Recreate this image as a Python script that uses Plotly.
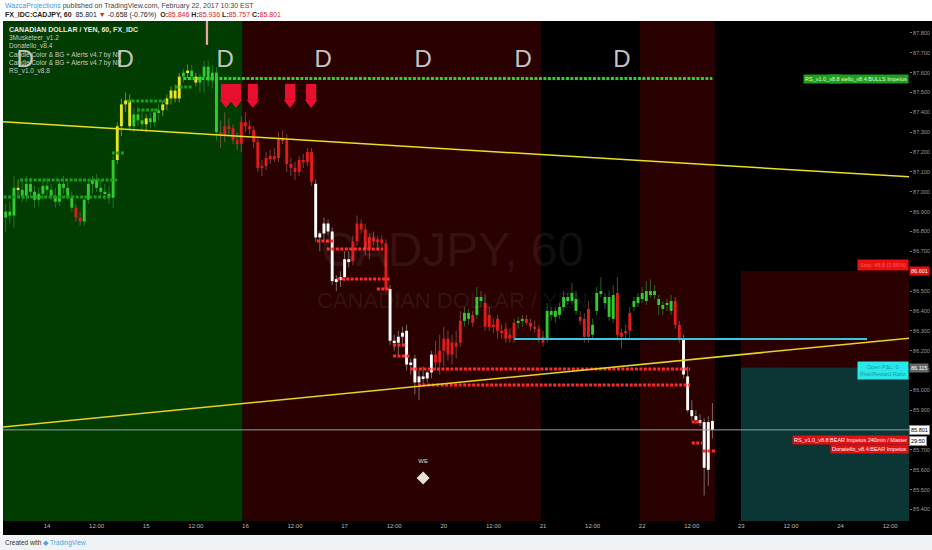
import plotly.graph_objects as go

# ---------------- DATA ----------------
# hourly bars, hour index counted from 14 Feb 00:00 with the weekend removed
hours = list(range(-10, 162))

opens = [
    86.87, 86.90, 86.88, 87.02, 87.01, 86.98, 87.04, 87.00, 86.96, 86.99,
    87.03, 87.01, 86.98, 86.95, 87.04, 87.02, 86.97, 86.92, 86.87, 86.85,
    86.96, 87.04, 87.06, 87.02, 87.00, 86.99, 86.97, 87.16, 87.33, 87.44,
    87.46, 87.33, 87.39, 87.36, 87.34, 87.37, 87.35, 87.40, 87.41, 87.44,
    87.47, 87.51, 87.47, 87.58, 87.60, 87.61, 87.58, 87.55, 87.58, 87.63,
    87.56, 87.60, 87.30, 87.28, 87.33, 87.32, 87.26, 87.24,
    87.35, 87.33, 87.31, 87.25, 87.12, 87.13, 87.17, 87.18, 87.17, 87.27,
    87.26, 87.14, 87.12, 87.10, 87.16, 87.15, 87.20, 87.04, 86.77, 86.79,
    86.84, 86.80, 86.55, 86.56, 86.57, 86.66, 86.65, 86.75, 86.84, 86.81,
    86.71, 86.77, 86.75, 86.76, 86.74, 86.51, 86.25, 86.24, 86.27, 86.30,
    86.13, 86.16, 86.04, 86.07, 86.06, 86.09, 86.18, 86.14, 86.20, 86.26,
    86.18, 86.24, 86.24, 86.35, 86.36, 86.38, 86.38, 86.45, 86.44, 86.38,
    86.32, 86.36, 86.30, 86.31, 86.28, 86.26, 86.34, 86.35, 86.36, 86.34,
    86.32, 86.31,
    86.27, 86.26, 86.38, 86.37, 86.38, 86.42, 86.45, 86.45, 86.40, 86.37,
    86.36, 86.41, 86.28, 86.40, 86.49, 86.44, 86.37, 86.36, 86.49, 86.29,
    86.29, 86.30, 86.42, 86.44,
    86.46, 86.45, 86.50, 86.48, 86.43, 86.41, 86.43, 86.40, 86.45, 86.33,
    86.26, 86.07, 85.90, 85.87, 85.85, 85.84, 85.60, 85.846,
]
highs = [
    86.94, 86.95, 87.08, 87.06, 87.05, 87.08, 87.07, 87.03, 87.02, 87.06,
    87.07, 87.04, 87.02, 87.06, 87.08, 87.05, 87.00, 86.94, 86.90, 86.98,
    87.06, 87.08, 87.09, 87.06, 87.04, 87.03, 87.18, 87.35, 87.47, 87.50,
    87.49, 87.42, 87.43, 87.42, 87.39, 87.40, 87.42, 87.44, 87.46, 87.49,
    87.53, 87.54, 87.60, 87.62, 87.64, 87.64, 87.60, 87.60, 87.66, 87.66,
    87.64, 87.63, 87.36, 87.40, 87.37, 87.34, 87.30, 87.38,
    87.40, 87.36, 87.33, 87.27, 87.16, 87.20, 87.21, 87.22, 87.30, 87.31,
    87.29, 87.17, 87.15, 87.18, 87.19, 87.22, 87.22, 87.06, 86.80, 86.87,
    86.86, 86.82, 86.58, 86.60, 86.70, 86.70, 86.78, 86.88, 86.86, 86.84,
    86.79, 86.80, 86.78, 86.78, 86.76, 86.53, 86.28, 86.30, 86.32, 86.33,
    86.16, 86.18, 86.10, 86.12, 86.10, 86.20, 86.25, 86.28, 86.32, 86.30,
    86.28, 86.30, 86.40, 86.42, 86.41, 86.40, 86.52, 86.50, 86.48, 86.42,
    86.36, 86.38, 86.33, 86.34, 86.31, 86.36, 86.37, 86.38, 86.38, 86.36,
    86.35, 86.33,
    86.30, 86.44, 86.42, 86.42, 86.44, 86.50, 86.49, 86.54, 86.50, 86.40,
    86.39, 86.45, 86.36, 86.52, 86.57, 86.49, 86.50, 86.53, 86.57, 86.31,
    86.33, 86.42, 86.47, 86.49,
    86.52, 86.55, 86.56, 86.53, 86.48, 86.45, 86.46, 86.48, 86.47, 86.35,
    86.28, 86.12, 85.95, 85.90, 85.88, 85.86, 85.87, 85.936,
]
lows = [
    86.80, 86.84, 86.82, 86.98, 86.95, 86.95, 86.97, 86.92, 86.93, 86.96,
    86.98, 86.96, 86.92, 86.93, 86.99, 86.96, 86.90, 86.85, 86.83, 86.83,
    86.94, 86.99, 87.00, 86.98, 86.96, 86.94, 86.92, 87.14, 87.28, 87.40,
    87.31, 87.30, 87.33, 87.31, 87.30, 87.32, 87.33, 87.36, 87.38, 87.41,
    87.44, 87.45, 87.45, 87.55, 87.57, 87.56, 87.53, 87.50, 87.50, 87.53,
    87.52, 87.26, 87.22, 87.25, 87.28, 87.24, 87.21, 87.20,
    87.30, 87.29, 87.22, 87.10, 87.08, 87.11, 87.14, 87.15, 87.15, 87.24,
    87.10, 87.08, 87.06, 87.08, 87.12, 87.13, 87.03, 86.75, 86.70, 86.75,
    86.78, 86.53, 86.50, 86.52, 86.55, 86.62, 86.63, 86.73, 86.79, 86.68,
    86.66, 86.73, 86.72, 86.72, 86.49, 86.23, 86.20, 86.18, 86.22, 86.10,
    86.08, 85.98, 85.95, 86.02, 86.04, 86.06, 86.10, 86.08, 86.12, 86.15,
    86.13, 86.16, 86.22, 86.32, 86.33, 86.32, 86.36, 86.42, 86.30, 86.30,
    86.29, 86.26, 86.26, 86.24, 86.24, 86.24, 86.31, 86.32, 86.33, 86.30,
    86.29, 86.24,
    86.22, 86.24, 86.35, 86.34, 86.36, 86.40, 86.43, 86.43, 86.38, 86.33,
    86.24, 86.24, 86.26, 86.38, 86.47, 86.41, 86.35, 86.34, 86.25, 86.21,
    86.26, 86.26, 86.40, 86.42,
    86.44, 86.43, 86.47, 86.46, 86.38, 86.38, 86.40, 86.38, 86.31, 86.24,
    86.06, 85.89, 85.85, 85.83, 85.82, 85.47, 85.52, 85.757,
]
closes = [
    86.90, 86.88, 87.02, 87.01, 86.98, 87.04, 87.00, 86.96, 86.99, 87.03,
    87.01, 86.98, 86.95, 87.04, 87.02, 86.97, 86.92, 86.87, 86.85, 86.96,
    87.04, 87.06, 87.02, 87.00, 86.99, 86.97, 87.16, 87.33, 87.44, 87.46,
    87.33, 87.39, 87.36, 87.34, 87.37, 87.35, 87.40, 87.41, 87.44, 87.47,
    87.51, 87.47, 87.58, 87.60, 87.61, 87.58, 87.55, 87.58, 87.63, 87.56,
    87.60, 87.30, 87.28, 87.33, 87.32, 87.26, 87.24, 87.35,
    87.33, 87.32, 87.25, 87.12, 87.13, 87.17, 87.18, 87.17, 87.27, 87.26,
    87.14, 87.12, 87.10, 87.16, 87.15, 87.20, 87.05, 86.77, 86.79, 86.84,
    86.80, 86.55, 86.56, 86.57, 86.66, 86.65, 86.75, 86.84, 86.81, 86.71,
    86.77, 86.75, 86.76, 86.74, 86.51, 86.25, 86.24, 86.27, 86.29, 86.13,
    86.14, 86.04, 86.07, 86.06, 86.09, 86.18, 86.14, 86.20, 86.26, 86.18,
    86.24, 86.22, 86.35, 86.39, 86.39, 86.34, 86.47, 86.47, 86.32, 86.32,
    86.33, 86.30, 86.29, 86.26, 86.26, 86.34, 86.35, 86.36, 86.34, 86.32,
    86.31, 86.26,
    86.24, 86.40, 86.40, 86.40, 86.42, 86.47, 86.47, 86.49, 86.46, 86.35,
    86.27, 86.27, 86.33, 86.49, 86.50, 86.47, 86.47, 86.48, 86.28, 86.27,
    86.29, 86.39, 86.45, 86.47,
    86.49, 86.50, 86.48, 86.50, 86.46, 86.43, 86.44, 86.45, 86.33, 86.26,
    86.08, 85.90, 85.87, 85.85, 85.84, 85.61, 85.84, 85.801,
]
# indicator candle colouring: g=green, y=yellow, r=red, w=white
candle_code = list(
    "gggy" + "g" * 13 + "rr" + "g" * 8 + "yyyy" + "ggg" + "y" + "ggg" + "yyyyy"
    + "gygy" + "ggggg" + "rrrrrr"
    + "r" * 17 + "w" * 9 + "r" * 9 + "w" * 11 + "r" * 7 + "gg" + "r" + "gg" + "r" * 8 + "gg" + "r" * 4
    + "r" + "g" * 8 + "rrr" + "g" * 6 + "rrrr" + "gg"
    + "g" * 8 + "rr" + "w" * 8
)

# pink spike marker
spike_hour = [38.7]
spike_low = [87.74]
spike_high = [87.87]

# session backgrounds (hour start, hour end, kind)
zone_start = [-10.65, 47.3, 119.5, 143.5, 161.6]
zone_end = [47.3, 119.5, 143.5, 161.6, 167.9]
zone_kind = ["bull", "bear", "flat", "bear", "flat"]

# position tool
pos_start, pos_end = 167.9, 208.6
pos_entry, pos_stop = 86.115, 86.601

# indicator levels (start hour, end hour, price)
green_lvl_start = [-10.5, -6.5, 15.7, 19.4, 21.8, 31.0]
green_lvl_end = [15.2, 17.0, 18.9, 29.0, 27.3, 35.0]
green_lvl_price = [86.974, 87.059, 87.195, 87.457, 87.412, 87.528]
bull_lvl_start = [33.0]
bull_lvl_end = [161.0]
bull_lvl_price = [87.570]
red_lvl_start = [65.3, 67.7, 70.2, 79.8, 83.7, 83.7, 87.8, 89.8, 156.0, 156.0, 158.7]
red_lvl_end = [69.2, 81.3, 83.0, 83.0, 86.6, 87.8, 155.6, 155.6, 158.5, 158.5, 161.6]
red_lvl_price = [86.752, 86.712, 86.561, 86.510, 86.228, 86.173, 86.107, 86.027, 85.840, 85.735, 85.694]

# sell signal arrows
arrow_hours = [43.3, 45.7, 49.8, 58.8, 63.9]
# daily "D" markers
d_hours = [-5.3, 18.9, 43.1, 66.8, 91.0, 115.2, 139.1]
d_price = 87.66
# weekend marker
we_hour = [91.0]
we_text_price = [85.64]
we_mark_price = [85.558]

# trendlines (hour, price)
trend1_h = [-10.65, 208.6]
trend1_p = [87.352, 87.075]
trend2_h = [-10.65, 208.6]
trend2_p = [85.815, 86.263]
cyan_h = [113.0, 198.4]
cyan_p = [86.258, 86.258]
last_price = 85.801

tick_hours = list(range(0, 205, 12))
tick_text = ["14", "12:00", "15", "12:00", "16", "12:00", "17", "12:00", "20", "12:00",
             "21", "12:00", "22", "12:00", "23", "12:00", "24", "12:00"]

# ---------------- FIGURE ----------------
FONT = "Liberation Sans"
col_map = {"g": "#2ecc2e", "y": "#e6e61e", "r": "#e21b1b", "w": "#ffffff"}
wick_map = {"g": "rgba(60,170,60,0.55)", "y": "rgba(200,200,60,0.55)",
            "r": "rgba(200,120,120,0.5)", "w": "rgba(200,200,200,0.5)"}
zone_col = {"bull": "#013c01", "bear": "#2a0101", "flat": "#000000"}

body_base = [min(o, c) for o, c in zip(opens, closes)]
body_len = [max(abs(c - o), 0.007) for o, c in zip(opens, closes)]
wick_len = [h - l for h, l in zip(highs, lows)]
bar_cols = [col_map[k] for k in candle_code]
wick_cols = [wick_map[k] for k in candle_code]

fig = go.Figure()

def seg_xy(starts, ends, prices):
    xs, ys = [], []
    for s, e, p in zip(starts, ends, prices):
        xs += [s, e, None]
        ys += [p, p, None]
    return xs, ys

gx, gy = seg_xy(green_lvl_start, green_lvl_end, green_lvl_price)
bx, by = seg_xy(bull_lvl_start, bull_lvl_end, bull_lvl_price)
rx, ry = seg_xy(red_lvl_start, red_lvl_end, red_lvl_price)
fig.add_trace(go.Scatter(x=gx, y=gy, mode="lines",
                         line=dict(color="#1f9c1f", width=3, dash="3px,1.5px")))
fig.add_trace(go.Scatter(x=bx, y=by, mode="lines",
                         line=dict(color="#2fcf2f", width=3, dash="3px,1.5px")))
fig.add_trace(go.Scatter(x=rx, y=ry, mode="lines",
                         line=dict(color="#ff2b2b", width=3, dash="3px,1.5px")))

# candles
fig.add_trace(go.Bar(x=hours, y=wick_len, base=lows, width=0.25,
                     marker=dict(color=wick_cols, line=dict(width=0))))
fig.add_trace(go.Bar(x=hours, y=body_len, base=body_base, width=0.7,
                     marker=dict(color=bar_cols, line=dict(width=0))))
fig.add_trace(go.Bar(x=spike_hour, y=[h - l for h, l in zip(spike_high, spike_low)],
                     base=spike_low, width=0.55,
                     marker=dict(color="#f2a0a8", line=dict(width=0))))

# trendlines
fig.add_trace(go.Scatter(x=trend1_h, y=trend1_p, mode="lines",
                         line=dict(color="#e8e020", width=1.5)))
fig.add_trace(go.Scatter(x=trend2_h, y=trend2_p, mode="lines",
                         line=dict(color="#e8d420", width=1.5)))
fig.add_trace(go.Scatter(x=cyan_h, y=cyan_p, mode="lines",
                         line=dict(color="#3cc8d8", width=2)))
fig.add_trace(go.Scatter(x=[-10.65, 208.6], y=[last_price, last_price], mode="lines",
                         line=dict(color="#8fa5a5", width=1)))

# sell arrows
fig.add_trace(go.Scatter(x=arrow_hours, y=[87.518] * len(arrow_hours), mode="markers",
                         marker=dict(symbol="square", size=10, color="#e8102e", line=dict(width=0))))
fig.add_trace(go.Scatter(x=arrow_hours, y=[87.488] * len(arrow_hours), mode="markers",
                         marker=dict(symbol="square", size=10, color="#e8102e", line=dict(width=0))))
fig.add_trace(go.Scatter(x=arrow_hours, y=[87.450] * len(arrow_hours), mode="markers",
                         marker=dict(symbol="triangle-down", size=11, color="#e8102e", line=dict(width=0))))

# D markers
fig.add_trace(go.Scatter(x=d_hours, y=[d_price] * len(d_hours), mode="text", text=["D"] * len(d_hours),
                         textfont=dict(family=FONT, size=24, color="#c4c4c4")))
# weekend marker
fig.add_trace(go.Scatter(x=we_hour, y=we_text_price, mode="text", text=["WE"],
                         textfont=dict(family=FONT, size=6, color="#dddddd")))
fig.add_trace(go.Scatter(x=we_hour, y=we_mark_price, mode="markers",
                         marker=dict(symbol="diamond", size=10, color="#e8e0d8")))

shapes = []
for s, e, k in zip(zone_start, zone_end, zone_kind):
    shapes.append(dict(type="rect", xref="x", yref="paper", x0=s, x1=e, y0=0, y1=1,
                       fillcolor=zone_col[k], line=dict(width=0), layer="below"))
shapes.append(dict(type="rect", xref="x", yref="y", x0=pos_start, x1=pos_end, y0=pos_entry, y1=pos_stop,
                   fillcolor="#2a0101", line=dict(width=0), layer="below"))
shapes.append(dict(type="rect", xref="x", yref="y", x0=pos_start, x1=pos_end, y0=85.2, y1=pos_entry,
                   fillcolor="#0c3535", line=dict(width=0), layer="below"))
shapes.append(dict(type="rect", xref="paper", yref="paper", x0=0, x1=1.026, y0=-0.028, y1=0,
                   fillcolor="#000000", line=dict(width=0), layer="below"))
shapes.append(dict(type="rect", xref="paper", yref="paper", x0=1, x1=1.026, y0=-0.028, y1=1,
                   fillcolor="#000000", line=dict(width=0), layer="below"))
shapes.append(dict(type="rect", xref="paper", yref="paper", x0=-0.004, x1=1.026, y0=-0.06, y1=-0.029,
                   fillcolor="#f0f3f6", line=dict(width=0), layer="below"))

ann = []
def A(text, x, y, size=6, color="#cccccc", xanchor="left", yanchor="middle", bg=None,
      xref="paper", yref="paper", bold=False, border=None, pad=1):
    d = dict(text=("<b>%s</b>" % text) if bold else text, x=x, y=y, xref=xref, yref=yref,
             showarrow=False, xanchor=xanchor, yanchor=yanchor,
             font=dict(family=FONT, size=size, color=color), borderpad=pad)
    if bg:
        d["bgcolor"] = bg
    if border:
        d["bordercolor"] = border
        d["borderwidth"] = 1
    ann.append(d)

# header
A("<span style='color:#3a9ad9'>WazcaProjections</span> published on TradingView.com, February 22, 2017 10:30 EST",
  0.0, 1.030, size=7, color="#444444")
A("<b>FX_IDC:CADJPY, 60</b>  85.801 <span style='color:#e0231e'>▼</span> -0.658 (-0.76%)  "
  "<b>O:</b><span style='color:#e0231e'>85.846</span> <b>H:</b><span style='color:#e0231e'>85.936</span> "
  "<b>L:</b><span style='color:#e0231e'>85.757</span> <b>C:</b><span style='color:#e0231e'>85.801</span>",
  0.0, 1.012, size=7, color="#222222")
# legend lines
A("CANADIAN DOLLAR / YEN, 60, FX_IDC", 0.0045, 0.982, size=7, color="#e8e8e8", bold=True)
for i, t in enumerate(["3Musketeer_v1.2", "Donatello_v8.4", "Candle Color & BG + Alerts v4.7 by NP",
                       "Candle Color & BG + Alerts v4.7 by NP", "RS_v1.0_v8.8"]):
    A(t, 0.0045, 0.966 - i * 0.0166, size=6.5, color="#c8c8c8")
# watermark
A("CADJPY, 60", 0.4956, 0.542, size=48, color="rgba(255,255,255,0.075)", xanchor="center")
A("CANADIAN DOLLAR / YEN", 0.4956, 0.442, size=22, color="rgba(255,255,255,0.075)", xanchor="center")
# right side labels
A("Donatello_v8.4:BULLS Impetus", 1.0, 87.568, size=5.5, color="#dfffdf", xanchor="right",
  bg="#1f9e1f", yref="y")
A("RS_v1.0_v8.8", 0.883, 87.568, size=5.5, color="#dfffdf", xanchor="left", bg="#1f9e1f", yref="y")
A("Stop: 48.6 (0.56%)", 1.0, 86.631, size=5.5, color="#ff5a5a", xanchor="right", bg="#e81010", yref="y",
  pad=2)
A("Open P&L: 0<br>Risk/Reward Ratio", 1.0, 86.10, size=5.5, color="#1a9aa0", xanchor="right",
  bg="#28e8ea", yref="y", pad=2)
A("RS_v1.0_v8.8:BEAR Impetus 240min / Master", 1.0, 85.752, size=5.5, color="#ffffff",
  xanchor="right", bg="#e21010", yref="y")
A("Donatello_v8.4:BEAR Impetus", 1.0, 85.703, size=5.5, color="#ffffff", xanchor="right",
  bg="#e21010", yref="y")
# price axis labels
A("86.601", 1.0, 86.601, size=5.5, color="#ffffff", bg="#e21010", yref="y")
A("86.115", 1.0, 86.115, size=5.5, color="#ffffff", bg="#666666", yref="y")
A("85.801", 1.0, 85.801, size=5.5, color="#000000", bg="#ffffff", yref="y", border="#888888")
A("29:50", 1.0, 85.745, size=5.5, color="#000000", bg="#ffffff", yref="y", border="#888888")
# footer
A("Created with <span style='color:#4aa3df'>◆ TradingView</span>", 0.0, -0.044, size=6.5, color="#333333")

fig.update_layout(
    width=932, height=550,
    margin=dict(l=3, r=23, t=21, b=29),
    paper_bgcolor="#ffffff", plot_bgcolor="#000000",
    showlegend=False, barmode="overlay", hovermode=False,
    shapes=shapes, annotations=ann,
    xaxis=dict(range=[-10.65, 208.56], tickvals=tick_hours, ticktext=tick_text,
               showgrid=False, zeroline=False, ticks="", showline=False,
               tickfont=dict(family=FONT, size=6, color="#bbbbbb"), fixedrange=True),
    yaxis=dict(range=[85.342, 87.86], side="right", tick0=85.4, dtick=0.1, tickformat=".3f",
               showgrid=False, zeroline=False, ticks="outside", ticklen=2, tickcolor="#777777",
               tickfont=dict(family=FONT, size=5.5, color="#999999"), showline=False),
)

fig.write_html("out.html", config={"displayModeBar": False},
               post_script="document.body.style.margin='0px';document.body.style.overflow='hidden';")
